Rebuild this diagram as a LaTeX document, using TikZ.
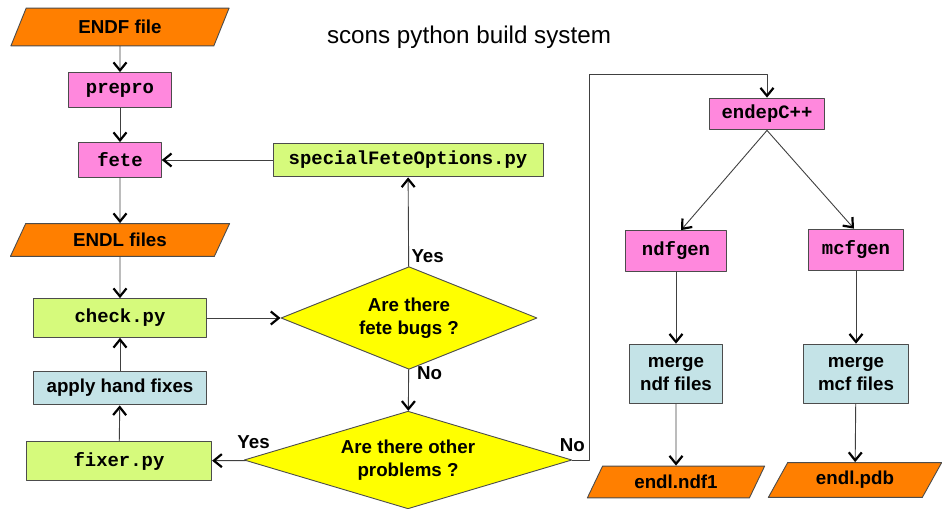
\documentclass[tikz,border=0pt]{standalone}
\usepackage{fontspec}
\setmainfont{Liberation Sans}
\setmonofont{Liberation Mono}
\usetikzlibrary{shapes.geometric,arrows.meta}
\definecolor{filecol}{HTML}{FF7F00}
\definecolor{toolcol}{HTML}{FF88DD}
\definecolor{pycol}{HTML}{D6FA7C}
\definecolor{mergecol}{HTML}{C4E3E7}
\definecolor{askcol}{HTML}{FFFF00}
\begin{document}
\begin{tikzpicture}[x=1bp,y=-1bp,line cap=round,line join=round,
		font=\fontsize{18.8}{22.5}\selectfont\bfseries,
		box/.style={draw=black!70,line width=0.9bp,inner sep=0pt,align=center},
		tool/.style={box,fill=toolcol,font=\fontsize{19}{21}\selectfont\ttfamily\bfseries},
		pyfile/.style={box,fill=pycol,font=\fontsize{19}{21}\selectfont\ttfamily\bfseries},
		merge/.style={box,fill=mergecol},
		datafile/.style={box,fill=filecol,trapezium,trapezium left angle=42,trapezium right angle=138,trapezium stretches body},
		ask/.style={box,fill=askcol,diamond,font=\fontsize{18.8}{23.5}\selectfont\bfseries},
		answer/.style={inner sep=0pt,anchor=center},
		flow/.style={draw=black!75,line width=0.9bp,-{Straight Barb[length=8bp,width=13bp,line width=2.2bp,black]}}]
	\useasboundingbox (0,0) rectangle (942,509);
	\node[font=\fontsize{24.3}{28}\selectfont] (title) at (469,37) {scons python build system};
	% left column
	\node[datafile,minimum width=219,minimum height=38] (endf) at (120,27) {ENDF file};
	\node[tool,minimum width=103,minimum height=35] (prepro) at (120,90) {prepro};
	\node[tool,minimum width=83,minimum height=35] (fete) at (120,160) {fete};
	\node[pyfile,minimum width=271,minimum height=34] (special) at (408,160) {specialFeteOptions.py};
	\node[datafile,minimum width=220,minimum height=33] (endl) at (120,240) {ENDL files};
	\node[pyfile,minimum width=173,minimum height=39] (check) at (120,318) {check.py};
	\node[merge,minimum width=173,minimum height=34] (hand) at (120,388) {apply hand fixes};
	\node[pyfile,minimum width=186,minimum height=40] (fixer) at (119,461) {fixer.py};
	% decisions
	\node[ask,aspect=2.5,minimum width=257,minimum height=103] (bugs) at (409,318) {Are there\\fete bugs ?};
	\node[ask,aspect=3.3,minimum width=329,minimum height=98] (other) at (408,460) {Are there other\\problems ?};
	% right part
	\node[tool,minimum width=115,minimum height=32] (endep) at (767,114) {endepC++};
	\node[tool,minimum width=101,minimum height=41] (ndfgen) at (676,251) {ndfgen};
	\node[tool,minimum width=96,minimum height=42] (mcfgen) at (856,250) {mcfgen};
	\node[merge,minimum width=94,minimum height=60] (mndf) at (676,374) {merge\\ndf files};
	\node[merge,minimum width=105,minimum height=60] (mmcf) at (856,374) {merge\\mcf files};
	\node[datafile,minimum width=178,minimum height=32] (ndf1) at (676,482) {endl.ndf1};
	\node[datafile,minimum width=174,minimum height=35] (pdb) at (855,480) {endl.pdb};
	\coordinate (up) at (589,460);
	\coordinate (over) at (589,74);
	% connectors
	\draw[flow] (endf) -- (prepro);
	\draw[flow] (prepro) -- (fete);
	\draw[flow] (fete) -- (endl);
	\draw[flow] (endl) -- (check);
	\draw[flow] (special) -- (fete);
	\draw[flow] (check) -- (bugs);
	\draw[flow] (bugs) -- node[answer,pos=0,xshift=19bp,yshift=10bp] (yes1) {Yes} (special);
	\draw[flow] (bugs) -- node[answer,pos=0,xshift=21bp,yshift=-4bp] (no1) {No} (other);
	\draw[flow] (other) -- node[answer,pos=0,xshift=8bp,yshift=18bp] (yes2) {Yes} (fixer);
	\draw[flow] (fixer) -- (hand);
	\draw[flow] (hand) -- (check);
	\draw[flow] (other.east) -- node[answer,pos=0,yshift=15bp] (no2) {No} (up) -- (over) -| (endep.north);
	\draw[flow] (endep.south) -- ([xshift=5bp]ndfgen.north);
	\draw[flow] (endep.south) -- ([xshift=-2bp]mcfgen.north);
	\draw[flow] (ndfgen) -- (mndf);
	\draw[flow] (mcfgen) -- (mmcf);
	\draw[flow] (mndf) -- (ndf1);
	\draw[flow] (mmcf) -- (pdb);
\end{tikzpicture}
\end{document}
